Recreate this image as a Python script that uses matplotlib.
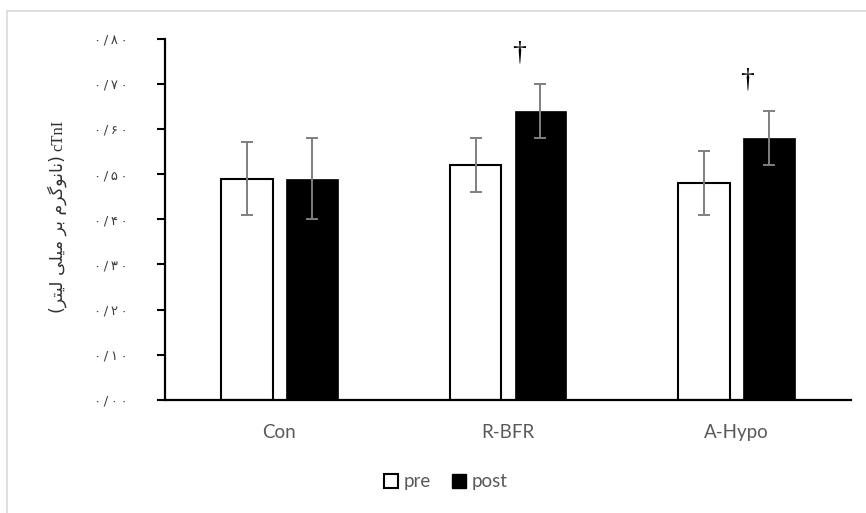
import numpy as np
import matplotlib
matplotlib.use("Agg")
import matplotlib.pyplot as plt
from matplotlib.patches import Rectangle, Patch

# cTnI concentration by group, before and after the protocol
groups = ["Con", "R-BFR", "A-Hypo"]
pre_mean = [0.49, 0.52, 0.48]
pre_err = [0.08, 0.06, 0.07]
post_mean = [0.49, 0.64, 0.58]
post_err = [0.09, 0.06, 0.06]
post_sig = [False, True, True]          # marked with a dagger

y_ticks = [0.0, 0.1, 0.2, 0.3, 0.4, 0.5, 0.6, 0.7, 0.8]
y_tick_labels = ["۰/۰۰", "۰/۱۰", "۰/۲۰", "۰/۳۰", "۰/۴۰",
                 "۰/۵۰", "۰/۶۰", "۰/۷۰", "۰/۸۰"]
# Persian unit, written in presentation forms in display order
y_unit = "(ﺮﺘﯿﻟ ﯽﻠﯿﻣ ﺮﺑ ﻡﺮﮔﻮﻧﺎﻧ)"
y_name = "cTnI"

W, H, DPI = 866, 513, 100
fig = plt.figure(figsize=(W / DPI, H / DPI), dpi=DPI)
fig.patch.set_facecolor("white")

# light frame around the chart area
fig.patches.append(Rectangle((7.5 / W, -0.05), 1.2, 1 - 10.5 / H + 0.05,
                             transform=fig.transFigure, fill=False,
                             edgecolor="#d9d9d9", linewidth=1.2))

ax = fig.add_axes([165 / W, 1 - 400 / H, (851 - 165) / W, (400 - 38.5) / H])

x = np.arange(len(groups))
width = 0.227
off = 0.142
err_kw = dict(ecolor="#7f7f7f", elinewidth=1.4, capsize=4.5, capthick=1.4)

ax.bar(x - off, pre_mean, width, color="white", edgecolor="black",
       linewidth=1.5, yerr=pre_err, error_kw=err_kw, zorder=2)
ax.bar(x + off, post_mean, width, color="black", edgecolor="black",
       linewidth=0.5, yerr=post_err, error_kw=err_kw, zorder=2)

for xi, m, e, s in zip(x, post_mean, post_err, post_sig):
    if s:
        ax.text(xi + off - 0.095, m + e + 0.04, "†", ha="center", va="bottom",
                fontsize=20, family=["Liberation Serif"], color="black")

ax.set_xlim(-0.5, 2.5)
ax.set_ylim(0, 0.8)
ax.set_xticks(x)
ax.set_xticklabels(groups, family=["Lato"], fontsize=13.5, color="#595959")
ax.tick_params(axis="x", length=0, pad=17)
ax.set_yticks(y_ticks)
ax.set_yticklabels(["\u2009".join(t) for t in y_tick_labels],
                   family=["DejaVu Sans"], fontsize=9.5, color="#404040")
ax.tick_params(axis="y", direction="out", length=6, width=1.5, pad=21,
               color="black")

for side in ("top", "right"):
    ax.spines[side].set_visible(False)
for side in ("left", "bottom"):
    ax.spines[side].set_linewidth(1.6)
    ax.spines[side].set_color("black")
ax.set_facecolor("none")

# axis title: Latin name above, Persian unit below, reading bottom to top
fig.text(58 / W, 1 - 120 / H, y_name, rotation=90, ha="center", va="top",
         fontsize=12, family=["Liberation Serif"], color="#303030")
fig.text(57 / W, 1 - 155 / H, y_unit, rotation=90, ha="center", va="top",
         fontsize=12.5, family=["DejaVu Sans"], color="#303030")

handles = [Patch(facecolor="white", edgecolor="black", linewidth=1.5),
           Patch(facecolor="black", edgecolor="black")]
leg = fig.legend(handles, ["pre", "post"], loc="center",
                 bbox_to_anchor=(446 / W, 1 - 482 / H), ncol=2, frameon=False,
                 handlelength=0.75, handleheight=0.75, handletextpad=0.3,
                 columnspacing=1.1, prop={"family": "Lato", "size": 13.5})
for t in leg.get_texts():
    t.set_color("#595959")

fig.savefig("out.png", dpi=DPI, facecolor="white")
